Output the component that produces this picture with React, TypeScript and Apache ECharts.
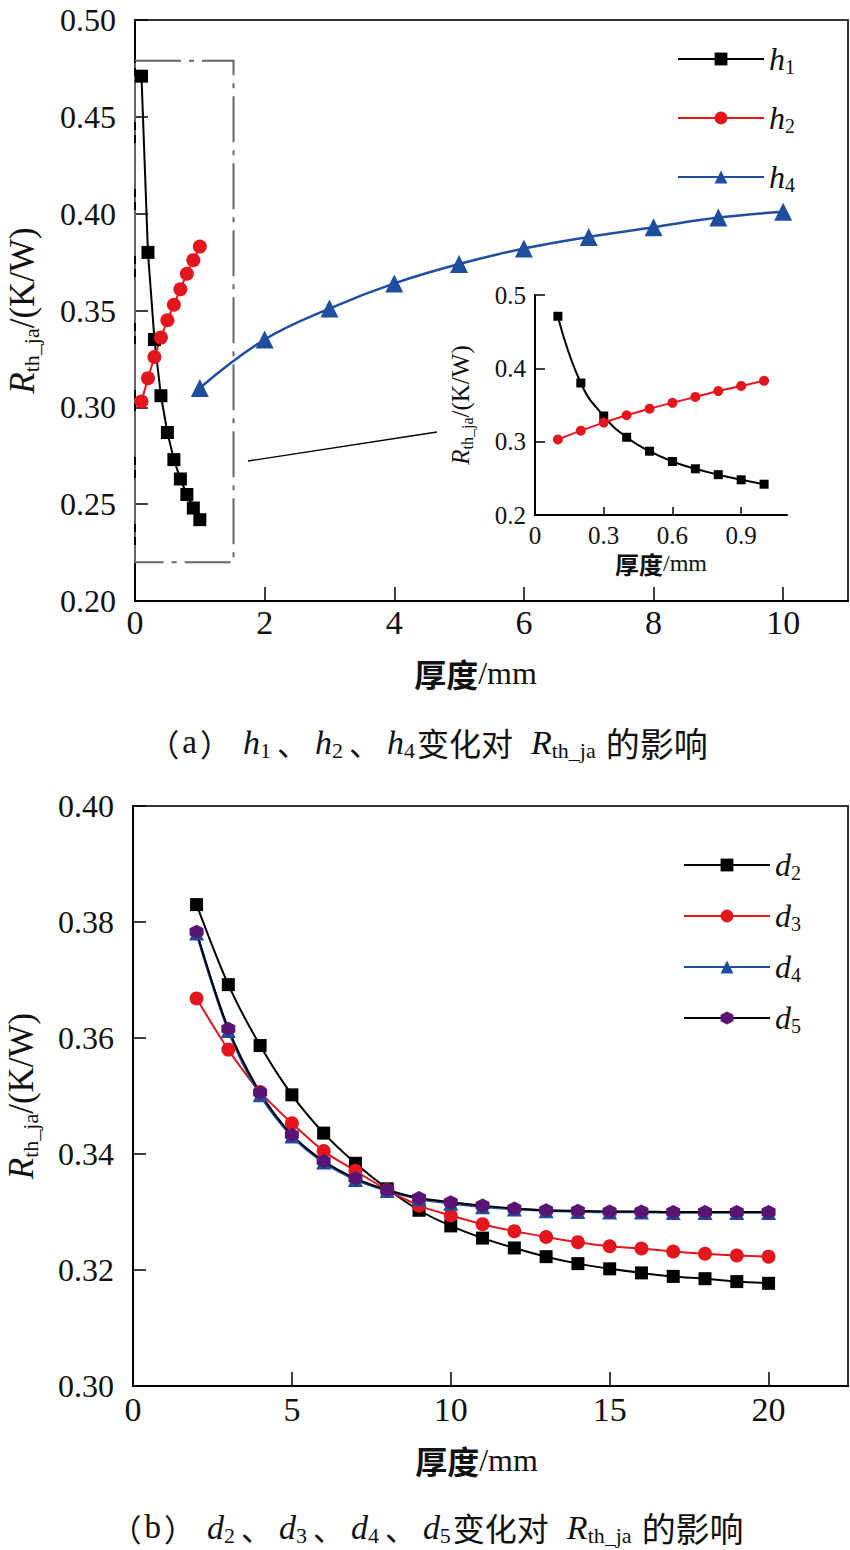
import React, { useEffect, useRef } from "react";
import * as echarts from "echarts";

const FF = "Liberation Serif";
const CJK = "Noto Sans CJK SC";

// Top chart (a)
const hX = [0.1, 0.2, 0.3, 0.4, 0.5, 0.6, 0.7, 0.8, 0.9, 1.0];
const h1 = [0.471, 0.380, 0.335, 0.306, 0.287, 0.273, 0.263, 0.255, 0.248, 0.242];
const h2 = [0.303, 0.315, 0.326, 0.336, 0.345, 0.353, 0.361, 0.369, 0.376, 0.383];
const h4X = [1, 2, 3, 4, 5, 6, 7, 8, 9, 10];
const h4 = [0.310, 0.335, 0.351, 0.364, 0.374, 0.382, 0.388, 0.393, 0.398, 0.401];

// Bottom chart (b)
const dX = [2, 3, 4, 5, 6, 7, 8, 9, 10, 11, 12, 13, 14, 15, 16, 17, 18, 19, 20];
const d2 = [0.3830, 0.3692, 0.3587, 0.3502, 0.3436, 0.3384, 0.3340, 0.3303, 0.3276, 0.3255, 0.3238, 0.3223, 0.3211, 0.3202, 0.3195, 0.3189, 0.3185, 0.3180, 0.3177];
const d3 = [0.3668, 0.3580, 0.3507, 0.3453, 0.3405, 0.3371, 0.3338, 0.3311, 0.3294, 0.3279, 0.3267, 0.3257, 0.3248, 0.3241, 0.3237, 0.3232, 0.3228, 0.3225, 0.3223];
const d4 = [0.3781, 0.3613, 0.3502, 0.3431, 0.3386, 0.3356, 0.3337, 0.3323, 0.3315, 0.3309, 0.3305, 0.3302, 0.3301, 0.3300, 0.3300, 0.3299, 0.3299, 0.3299, 0.3299];
const d5 = [0.3783, 0.3616, 0.3506, 0.3433, 0.3388, 0.3358, 0.3338, 0.3324, 0.3317, 0.3311, 0.3306, 0.3303, 0.3302, 0.3301, 0.3301, 0.3300, 0.3300, 0.3300, 0.3300];

const hLegend = ["h1", "h2", "h4"];
const dLegend = ["d2", "d3", "d4", "d5"];

const BLACK = "#000000";
const RED = "#e3161e";
const BLUE = "#1f4e9f";
const PURPLE = "#5a1473";
const HEX = "path://M0,-10L8.66,-5L8.66,5L0,10L-8.66,5L-8.66,-5Z";

const zip = (xs: number[], ys: number[]) => xs.map((x, i) => [x, ys[i]]);

const rich = (size: number) => ({
  i: { fontFamily: FF, fontStyle: "italic", fontSize: size, color: "#111" },
  n: { fontFamily: FF, fontSize: size, color: "#111" },
  s: { fontFamily: FF, fontSize: Math.round(size * 0.62), color: "#111", padding: [Math.round(size * 0.5), 0, 0, 0] },
  c: { fontFamily: CJK, fontSize: size, color: "#111" },
  cb: { fontFamily: CJK, fontSize: size, color: "#111", fontWeight: "bold" },
});

const capRich = {
  L: { fontFamily: CJK, fontSize: 31, color: "#111", padding: [0, 0, 0, 0] },
  R: { fontFamily: CJK, fontSize: 31, color: "#111", padding: [0, 12, 0, 0] },
  a: { fontFamily: FF, fontSize: 33, color: "#111", padding: [0, 3, 0, 3] },
  i: { fontFamily: FF, fontStyle: "italic", fontSize: 34, color: "#111" },
  s: { fontFamily: FF, fontSize: 22, color: "#111", padding: [16, 0, 0, 0] },
  d: { fontFamily: CJK, fontSize: 31, color: "#111", padding: [0, 7, 0, 6] },
  v: { fontFamily: CJK, fontSize: 32, color: "#111", padding: [0, 18, 0, 2] },
  e: { fontFamily: CJK, fontSize: 34, color: "#111", padding: [0, 0, 0, 10] },
};

const axisBase = (tickLen: number) => ({
  axisLine: { onZero: false, lineStyle: { color: "#000", width: 2 } },
  axisTick: { inside: true, length: tickLen, lineStyle: { color: "#000", width: 1.5 } },
  splitLine: { show: false },
});

const yName = "{i|R}{s|th_ja}{n|/(K/W)}";
const xName = "{cb|厚度}{n|/mm}";

export default function App() {
  const ref = useRef<HTMLDivElement>(null);
  useEffect(() => {
    document.body.style.margin = "0";
    const chart = echarts.init(ref.current as HTMLDivElement, null, { renderer: "svg" });
    const option: any = {
      animation: false,
      backgroundColor: "#fff",
      textStyle: { fontFamily: FF },
      grid: [
        { left: 135, top: 20, width: 713, height: 581, show: true, borderColor: "#333", borderWidth: 2, containLabel: false, outerBoundsMode: "none" },
        { left: 535, top: 295, width: 252, height: 220, containLabel: false, outerBoundsMode: "none" },
        { left: 133, top: 806, width: 715, height: 580, show: true, borderColor: "#333", borderWidth: 2, containLabel: false, outerBoundsMode: "none" },
      ],
      xAxis: [
        {
          ...axisBase(14), type: "value", gridIndex: 0, min: 0, max: 11, interval: 2,
          axisLabel: { fontFamily: FF, fontSize: 34, color: "#111", margin: 4, showMaxLabel: false },
          name: xName, nameLocation: "middle", nameGap: 56,
          nameTextStyle: { fontFamily: FF, rich: rich(32), padding: [0, 32, 0, 0] },
        },
        {
          ...axisBase(8), type: "value", gridIndex: 1, min: 0, max: 1.1, interval: 0.3,
          axisLabel: {
            fontFamily: FF, fontSize: 25, color: "#111", margin: 8, showMaxLabel: false,
            formatter: (v: number) => (v === 0 ? "0" : String(Math.round(v * 10) / 10)),
          },
          name: xName, nameLocation: "middle", nameGap: 36,
          nameTextStyle: { fontFamily: FF, rich: rich(24) },
        },
        {
          ...axisBase(14), type: "value", gridIndex: 2, min: 0, max: 22.5, interval: 5,
          axisLabel: { fontFamily: FF, fontSize: 34, color: "#111", margin: 6, showMaxLabel: false },
          name: xName, nameLocation: "middle", nameGap: 58,
          nameTextStyle: { fontFamily: FF, rich: rich(32), padding: [0, 28, 0, 0] },
        },
      ],
      yAxis: [
        {
          ...axisBase(13), type: "value", gridIndex: 0, min: 0.2, max: 0.5, interval: 0.05,
          axisLabel: { fontFamily: FF, fontSize: 32, color: "#111", margin: 19, formatter: (v: number) => v.toFixed(2) },
          name: yName, nameLocation: "middle", nameGap: 93, nameRotate: 90,
          nameTextStyle: { fontFamily: FF, rich: rich(35) },
        },
        {
          ...axisBase(10), type: "value", gridIndex: 1, min: 0.2, max: 0.5, interval: 0.1,
          axisLabel: { fontFamily: FF, fontSize: 25, color: "#111", margin: 9, formatter: (v: number) => v.toFixed(1) },
          name: yName, nameLocation: "middle", nameGap: 60, nameRotate: 90,
          nameTextStyle: { fontFamily: FF, rich: rich(25) },
        },
        {
          ...axisBase(13), type: "value", gridIndex: 2, min: 0.3, max: 0.4, interval: 0.02,
          axisLabel: { fontFamily: FF, fontSize: 32, color: "#111", margin: 19, formatter: (v: number) => v.toFixed(2) },
          name: yName, nameLocation: "middle", nameGap: 92, nameRotate: 90,
          nameTextStyle: { fontFamily: FF, rich: rich(35) },
        },
      ],
      legend: [
        {
          data: hLegend, orient: "vertical", left: 672, top: 36, itemWidth: 86, itemHeight: 16, itemGap: 23,
          formatter: (n: string) => `{i|${n[0]}}{s|${n.slice(1)}}`,
          textStyle: { fontFamily: FF, rich: rich(32), lineHeight: 36 },
        },
        {
          data: dLegend, orient: "vertical", left: 678, top: 842, itemWidth: 86, itemHeight: 16, itemGap: 15,
          formatter: (n: string) => `{i|${n[0]}}{s|${n.slice(1)}}`,
          textStyle: { fontFamily: FF, rich: rich(32), lineHeight: 36 },
        },
      ],
      series: [
        {
          name: "h1", type: "line", xAxisIndex: 0, yAxisIndex: 0, data: zip(hX, h1),
          symbol: "rect", symbolSize: 13, itemStyle: { color: BLACK }, lineStyle: { color: BLACK, width: 2 },
          markArea: {
            silent: true, label: { show: false },
            itemStyle: { color: "rgba(0,0,0,0)", borderColor: "#666", borderWidth: 2, borderType: [46, 8, 5, 8] },
            data: [[{ xAxis: 0, yAxis: 0.479 }, { xAxis: 1.52, yAxis: 0.22 }]],
          },
        },
        {
          name: "h2", type: "line", xAxisIndex: 0, yAxisIndex: 0, data: zip(hX, h2),
          symbol: "circle", symbolSize: 14, itemStyle: { color: RED }, lineStyle: { color: RED, width: 2 },
        },
        {
          name: "h4", type: "line", xAxisIndex: 0, yAxisIndex: 0, data: zip(h4X, h4), smooth: 0.4,
          symbol: "triangle", symbolSize: 18, itemStyle: { color: BLUE }, lineStyle: { color: BLUE, width: 2.5 },
        },
        {
          name: "h1", type: "line", xAxisIndex: 1, yAxisIndex: 1, data: zip(hX, h1), smooth: 0.5,
          symbol: "rect", symbolSize: 9, itemStyle: { color: BLACK }, lineStyle: { color: BLACK, width: 2 },
        },
        {
          name: "h2", type: "line", xAxisIndex: 1, yAxisIndex: 1, data: zip(hX, h2), smooth: 0.3,
          symbol: "circle", symbolSize: 10, itemStyle: { color: RED }, lineStyle: { color: RED, width: 2 },
        },
        {
          name: "d2", type: "line", xAxisIndex: 2, yAxisIndex: 2, data: zip(dX, d2), smooth: 0.3,
          symbol: "rect", symbolSize: 13, itemStyle: { color: BLACK }, lineStyle: { color: BLACK, width: 2 },
        },
        {
          name: "d3", type: "line", xAxisIndex: 2, yAxisIndex: 2, data: zip(dX, d3), smooth: 0.3,
          symbol: "circle", symbolSize: 14, itemStyle: { color: RED }, lineStyle: { color: RED, width: 2 },
        },
        {
          name: "d4", type: "line", xAxisIndex: 2, yAxisIndex: 2, data: zip(dX, d4), smooth: 0.3,
          symbol: "triangle", symbolSize: 15, itemStyle: { color: BLUE }, lineStyle: { color: BLUE, width: 2.5 },
        },
        {
          name: "d5", type: "line", xAxisIndex: 2, yAxisIndex: 2, data: zip(dX, d5), smooth: 0.3,
          symbol: HEX, symbolSize: 14, itemStyle: { color: PURPLE }, lineStyle: { color: BLACK, width: 2 },
        },
      ],
      graphic: [
        { type: "line", shape: { x1: 248, y1: 461, x2: 437, y2: 432 }, style: { stroke: "#000", lineWidth: 1.3 } },
        {
          type: "text", x: 428, y: 742,
          style: {
            text: "{L|（}{a|a}{R|）}{i|h}{s|1}{d|、}{i|h}{s|2}{d|、}{i|h}{s|4}{v|变化对}{i|R}{s|th_ja}{e|的影响}",
            rich: capRich, fontFamily: FF, fontSize: 30, fill: "#111", align: "center", verticalAlign: "middle",
          },
        },
        {
          type: "text", x: 427, y: 1527,
          style: {
            text: "{L|（}{a|b}{R|）}{i|d}{s|2}{d|、}{i|d}{s|3}{d|、}{i|d}{s|4}{d|、}{i|d}{s|5}{v|变化对}{i|R}{s|th_ja}{e|的影响}",
            rich: capRich, fontFamily: FF, fontSize: 30, fill: "#111", align: "center", verticalAlign: "middle",
          },
        },
      ],
    };
    chart.setOption(option);
    return () => chart.dispose();
  }, []);
  return <div ref={ref} style={{ width: 850, height: 1550 }} />;
}
